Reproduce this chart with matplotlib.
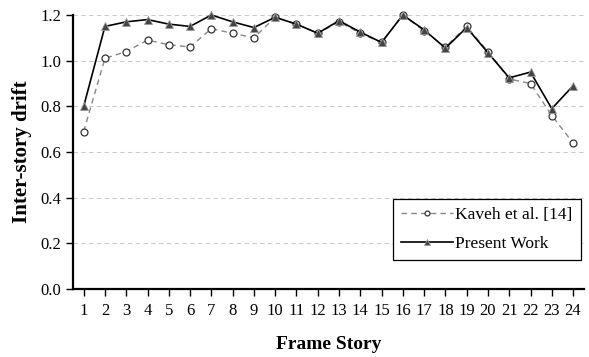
import matplotlib.pyplot as plt
import numpy as np

plt.rcParams['font.family'] = ['Liberation Serif', 'DejaVu Serif']

stories = list(range(1, 25))
kaveh = [0.69, 1.01, 1.04, 1.09, 1.07, 1.06, 1.14, 1.12, 1.10, 1.19, 1.16, 1.12,
         1.17, 1.12, 1.08, 1.20, 1.13, 1.06, 1.15, 1.04, 0.92, 0.90, 0.76, 0.64]
present = [0.80, 1.15, 1.17, 1.18, 1.16, 1.15, 1.20, 1.17, 1.145, 1.19, 1.16, 1.12,
           1.175, 1.125, 1.08, 1.20, 1.135, 1.055, 1.145, 1.035, 0.925, 0.95, 0.79, 0.89]
yticks = [0.0, 0.2, 0.4, 0.6, 0.8, 1.0, 1.2]

fig = plt.figure(figsize=(5.89, 3.57), dpi=100)
ax = fig.add_axes([0.124, 0.19, 0.867, 0.768])

for y in yticks[1:]:
    ax.axhline(y, color='#cccccc', linestyle=(0, (4, 3)), linewidth=0.8, zorder=0)

ax.plot(stories, kaveh, color='#888888', linestyle=(0, (4, 3)), linewidth=1.0,
        marker='o', markersize=5, markerfacecolor='white', markeredgecolor='#333333',
        markeredgewidth=0.9, label='Kaveh et al. [14]', zorder=2, clip_on=False)
ax.plot(stories, present, color='black', linewidth=1.2,
        marker='^', markersize=6, markerfacecolor='#444444', markeredgecolor='#999999',
        markeredgewidth=0.6, label='Present Work', zorder=3, clip_on=False)

ax.set_xlim(0.5, 24.5)
ax.set_ylim(0, 1.2)
ax.set_xticks(stories)
ax.set_yticks(yticks)
ax.set_yticklabels([f'{v:.1f}' for v in yticks])
ax.tick_params(labelsize=12, direction='out', length=5, width=1.0, color='black')
ax.tick_params(axis='x', pad=5)
for s in ['top', 'right']:
    ax.spines[s].set_visible(False)
ax.spines['left'].set_linewidth(1.6)
ax.spines['bottom'].set_linewidth(1.6)

ax.set_xlabel('Frame Story', fontsize=14, fontweight='bold', labelpad=12)
ax.set_ylabel('Inter-story drift', fontsize=15, fontweight='bold', labelpad=6)

leg = ax.legend(loc='lower right', bbox_to_anchor=(0.995, 0.105), fontsize=12.5,
                frameon=True, fancybox=False, edgecolor='black', framealpha=1,
                handlelength=3.0, handletextpad=0.1, borderpad=0.5, labelspacing=0.7,
                markerscale=0.7, borderaxespad=0)
leg.get_frame().set_linewidth(0.9)

fig.savefig('out.png', dpi=100)
